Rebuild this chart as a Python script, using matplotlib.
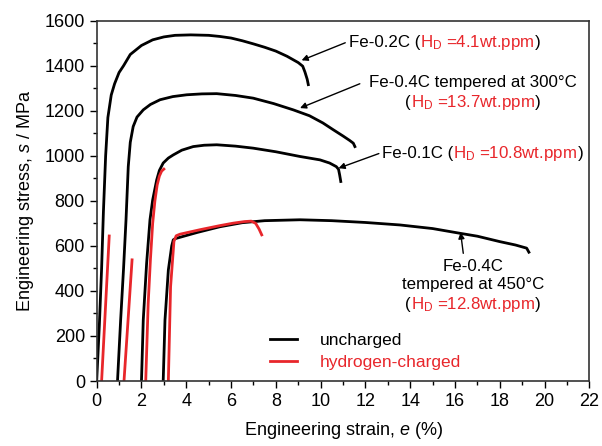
import matplotlib
matplotlib.use('Agg')
import matplotlib.pyplot as plt
from matplotlib.offsetbox import TextArea, HPacker, VPacker, AnnotationBbox
from matplotlib.ticker import MultipleLocator

plt.rcParams['font.family'] = ['Liberation Sans', 'DejaVu Sans']
plt.rcParams['mathtext.fontset'] = 'custom'
plt.rcParams['mathtext.rm'] = 'Liberation Sans'
plt.rcParams['mathtext.it'] = 'Liberation Sans:italic'

RED = '#e8262b'

# uncharged curves (strain %, stress MPa)
c02_x = [0, 0.12, 0.22, 0.3, 0.4, 0.5, 0.65, 0.8, 1.0, 1.2, 1.5, 2.0, 2.5, 3.0, 3.5, 4.2, 5.0, 5.5,
         6.0, 6.5, 7.0, 7.5, 8.0, 8.5, 9.0, 9.2, 9.3, 9.4, 9.45]
c02_y = [0, 250, 500, 750, 1000, 1170, 1270, 1320, 1370, 1400, 1450, 1490, 1515, 1528, 1535, 1537, 1535, 1530,
         1523, 1511, 1497, 1482, 1465, 1442, 1414, 1398, 1372, 1340, 1316]

c04a_x = [0.93, 1.07, 1.2, 1.31, 1.41, 1.5, 1.63, 1.8, 2.08, 2.4, 2.83, 3.4, 4.02, 4.7, 5.36, 6.2, 6.99,
          7.9, 8.78, 9.5, 10.1, 10.56, 11.0, 11.3, 11.46, 11.53]
c04a_y = [0, 271, 500, 716, 952, 1060, 1130, 1172, 1204, 1228, 1249, 1263, 1271, 1275, 1276, 1268, 1256,
          1232, 1204, 1178, 1146, 1116, 1088, 1068, 1056, 1041]

c01_x = [2.0, 2.08, 2.23, 2.38, 2.5, 2.68, 2.8, 2.97, 3.2, 3.42, 3.8, 4.31, 4.8, 5.36, 6.2, 6.99, 8.0,
         9.08, 9.97, 10.4, 10.7, 10.8, 10.85, 10.9]
c01_y = [0, 271, 523, 716, 804, 893, 935, 968, 990, 1004, 1025, 1041, 1047, 1049, 1043, 1034, 1018,
         997, 982, 968, 952, 940, 915, 886]

c04b_x = [2.97, 3.05, 3.2, 3.35, 3.42, 3.5, 3.64, 4.5, 5.5, 6.5, 7.5, 9.08, 10.5, 12.0, 13.54, 15.0,
          16.22, 17.0, 18.0, 18.7, 19.2, 19.3]
c04b_y = [0, 271, 493, 600, 627, 632, 636, 660, 685, 703, 712, 716, 712, 704, 693, 677,
          656, 643, 619, 604, 590, 572]

# hydrogen-charged curves
h02_x = [0.22, 0.56]
h02_y = [0, 644]

h04a_x = [1.22, 1.58]
h04a_y = [0, 538]

h01_x = [2.19, 2.3, 2.4, 2.5, 2.6, 2.7, 2.8, 2.9, 3.0]
h01_y = [0, 345, 540, 700, 800, 870, 910, 932, 941]

h04b_x = [3.2, 3.3, 3.45, 3.55, 3.72, 4.62, 5.5, 6.1, 6.6, 6.9, 7.1, 7.25, 7.37]
h04b_y = [0, 419, 620, 645, 652, 672, 690, 701, 708, 710, 700, 675, 649]

fig = plt.figure(figsize=(6.02, 4.46), dpi=100)
ax = fig.add_axes([0.1606, 0.1457, 0.8184, 0.8079])

for x, y in [(c02_x, c02_y), (c04a_x, c04a_y), (c01_x, c01_y), (c04b_x, c04b_y)]:
    ax.plot(x, y, color='black', lw=2, solid_joinstyle='round')
for x, y in [(h02_x, h02_y), (h04a_x, h04a_y), (h01_x, h01_y), (h04b_x, h04b_y)]:
    ax.plot(x, y, color=RED, lw=2, solid_joinstyle='round')

ax.set_xlim(0, 22)
ax.set_ylim(0, 1600)
ax.xaxis.set_major_locator(MultipleLocator(2))
ax.xaxis.set_minor_locator(MultipleLocator(1))
ax.yaxis.set_major_locator(MultipleLocator(200))
ax.yaxis.set_minor_locator(MultipleLocator(100))
ax.tick_params(which='major', direction='out', length=5, width=1, labelsize=13)
ax.tick_params(which='minor', direction='out', length=3, width=1)
for s in ax.spines.values():
    s.set_linewidth(1.2)
    s.set_color('#333333')

ax.set_xlabel('Engineering strain, $\\mathit{e}$ (%)', fontsize=13, labelpad=7)
ax.set_ylabel('Engineering stress, $\\mathit{s}$ / MPa', fontsize=13, labelpad=6)

fs = 12.2


def row(parts):
    return HPacker(children=[TextArea(t, textprops=dict(color=c, fontsize=fs)) for t, c in parts],
                   align='baseline', pad=0, sep=0)


def label(lines, xy, align):
    box = VPacker(children=[row(p) for p in lines], align='center', pad=0, sep=2)
    ab = AnnotationBbox(box, xy, xycoords='data', frameon=False, box_alignment=align)
    ax.add_artist(ab)


HD = 'H$_{\\rm D}$'
label([[('Fe-0.2C (', 'black'), (HD + ' =4.1wt.ppm', RED), (')', 'black')]], (11.25, 1502), (0, 0.5))
label([[('Fe-0.4C tempered at 300°C', 'black')],
       [('(', 'black'), (HD + ' =13.7wt.ppm', RED), (')', 'black')]], (16.8, 1276), (0.5, 0.5))
label([[('Fe-0.1C (', 'black'), (HD + ' =10.8wt.ppm', RED), (')', 'black')]], (12.75, 1012), (0, 0.5))
label([[('Fe-0.4C', 'black')], [('tempered at 450°C', 'black')],
       [('(', 'black'), (HD + ' =12.8wt.ppm', RED), (')', 'black')]], (16.8, 420), (0.5, 0.5))

arrow = dict(arrowstyle='-|>', color='black', lw=1, mutation_scale=9, shrinkA=0, shrinkB=0)
ax.annotate('', xy=(9.15, 1424), xytext=(11.1, 1502), arrowprops=arrow)
ax.annotate('', xy=(9.08, 1212), xytext=(11.75, 1320), arrowprops=arrow)
ax.annotate('', xy=(10.8, 945), xytext=(12.6, 1010), arrowprops=arrow)
ax.annotate('', xy=(16.25, 660), xytext=(16.37, 567), arrowprops=arrow)

l1, = ax.plot([], [], color='black', lw=2, label='uncharged')
l2, = ax.plot([], [], color=RED, lw=2, label='hydrogen-charged')
leg = ax.legend(handles=[l1, l2], loc='lower left', bbox_to_anchor=(0.32, -0.012),
                frameon=False, fontsize=12.5, handlelength=1.55, handletextpad=1.3, labelspacing=0.38)
for t, c in zip(leg.get_texts(), ['black', RED]):
    t.set_color(c)

fig.savefig('out.png', dpi=100)
